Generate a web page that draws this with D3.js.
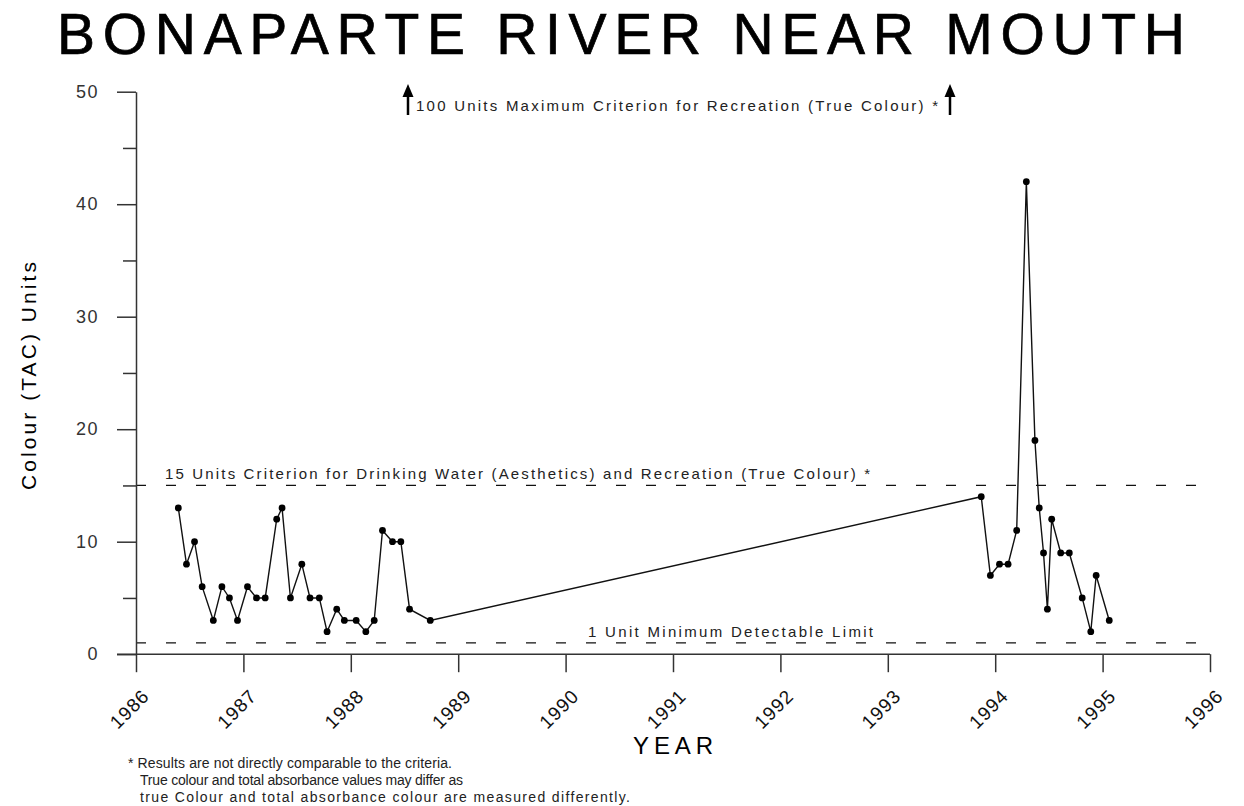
<!DOCTYPE html>
<html>
<head>
<meta charset="utf-8">
<script src="https://cdn.jsdelivr.net/npm/d3@7"></script>
<style>
  body { margin: 0; background: #fff; }
  svg { display: block; font-family: Arial, "Liberation Sans", sans-serif; }
</style>
</head>
<body>
<script>
// sample dates (decimal years) and colour readings
const dates = [1986.394, 1986.47, 1986.545, 1986.616, 1986.72, 1986.80, 1986.87, 1986.945, 1987.038, 1987.122,
  1987.203, 1987.31, 1987.36, 1987.438, 1987.544, 1987.62, 1987.707, 1987.779, 1987.869, 1987.94,
  1988.05, 1988.14, 1988.218, 1988.295, 1988.388, 1988.466, 1988.547, 1988.74,
  1993.87, 1993.955, 1994.04, 1994.12, 1994.20, 1994.29, 1994.37, 1994.41, 1994.45, 1994.486,
  1994.526, 1994.61, 1994.69, 1994.81, 1994.89, 1994.94, 1995.062];
const values = [13, 8, 10, 6, 3, 6, 5, 3, 6, 5,
  5, 12, 13, 5, 8, 5, 5, 2, 4, 3,
  3, 2, 3, 11, 10, 10, 4, 3,
  14, 7, 8, 8, 11, 42, 19, 13, 9, 4,
  12, 9, 9, 5, 2, 7, 3];

const yearTicks = [1986, 1987, 1988, 1989, 1990, 1991, 1992, 1993, 1994, 1995, 1996];
const yMajor = [0, 10, 20, 30, 40, 50];
const yMinor = [5, 15, 25, 35, 45];

const criteria = [15, 1];
const criteriaLabels = [
  "15 Units Criterion for Drinking Water (Aesthetics) and Recreation (True Colour) *",
  "1 Unit Minimum Detectable Limit"
];
const maxCriterionLabel = "100 Units Maximum Criterion for Recreation (True Colour) *";
const footnote = [
  "* Results are not directly comparable to the criteria.",
  "True colour and total absorbance values may differ as",
  "true Colour and total absorbance colour are measured differently."
];

let width = 1244;
let height = 806;
let svg = d3.select("body").append("svg")
  .attr("width", width)
  .attr("height", height);

let x = d3.scaleLinear().domain([1986, 1996]).range([136, 1210]);
let y = d3.scaleLinear().domain([0, 50]).range([654.2, 91.7]);

// title
svg.append("text")
  .attr("x", 57).attr("y", 54)
  .attr("font-size", 57)
  .attr("stroke", "#000").attr("stroke-width", 0.7)
  .attr("textLength", 1128).attr("lengthAdjust", "spacing")
  .text("BONAPARTE RIVER NEAR MOUTH");

// criterion lines
svg.append("g").selectAll("line")
  .data(criteria)
  .enter().append("line")
  .attr("x1", x(1986)).attr("x2", x(1996))
  .attr("y1", d => y(d)).attr("y2", d => y(d))
  .attr("stroke", "#111").attr("stroke-width", 1.3)
  .attr("stroke-dasharray", "10,20");

svg.append("text")
  .attr("x", 165).attr("y", 479)
  .attr("font-size", 15).attr("fill", "#222")
  .attr("textLength", 705).attr("lengthAdjust", "spacing")
  .text(criteriaLabels[0]);

svg.append("text")
  .attr("x", 588).attr("y", 637)
  .attr("font-size", 15).attr("fill", "#222")
  .attr("textLength", 285).attr("lengthAdjust", "spacing")
  .text(criteriaLabels[1]);

// off-scale criterion with arrows
svg.append("text")
  .attr("x", 416).attr("y", 111)
  .attr("font-size", 15).attr("fill", "#222")
  .attr("textLength", 522).attr("lengthAdjust", "spacing")
  .text(maxCriterionLabel);

[408, 950].forEach(ax => {
  svg.append("line")
    .attr("x1", ax).attr("x2", ax).attr("y1", 115).attr("y2", 92)
    .attr("stroke", "#000").attr("stroke-width", 2.5);
  svg.append("path")
    .attr("d", `M${ax - 5.5},${97} L${ax},${84} L${ax + 5.5},${97} Z`)
    .attr("fill", "#000");
});

// y axis
let yAxis = svg.append("g")
  .attr("transform", `translate(${x(1986)},0)`)
  .call(d3.axisLeft(y).tickValues(yMajor).tickSize(19).tickSizeOuter(0).tickPadding(18));
yAxis.selectAll("text")
  .attr("font-size", 18).attr("fill", "#333").attr("letter-spacing", 1.5)
  .attr("font-family", "Arial, 'Liberation Sans', sans-serif");

let yMinorAxis = svg.append("g")
  .attr("transform", `translate(${x(1986)},0)`)
  .call(d3.axisLeft(y).tickValues(yMinor).tickSize(13).tickFormat(""));
yMinorAxis.select(".domain").remove();

// x axis
let xAxis = svg.append("g")
  .attr("transform", `translate(0,${y(0)})`)
  .call(d3.axisBottom(x).tickValues(yearTicks).tickSize(18).tickSizeOuter(0).tickFormat(d3.format("d")));
xAxis.select(".domain").remove();
xAxis.append("line")
  .attr("x1", x(1986) - 19).attr("x2", x(1996))
  .attr("stroke", "#333").attr("stroke-width", 1.5);
xAxis.selectAll("text")
  .attr("font-size", 19).attr("fill", "#111").attr("letter-spacing", 1)
  .attr("font-family", "Arial, 'Liberation Sans', sans-serif")
  .attr("text-anchor", "end")
  .attr("x", 0).attr("y", 0).attr("dy", 0)
  .attr("transform", d => `translate(14,43) rotate(-45)`);

svg.selectAll(".domain, .tick line")
  .attr("stroke", "#333").attr("stroke-width", 1.5);

// axis titles
svg.append("text")
  .attr("transform", `translate(36,${376}) rotate(-90)`)
  .attr("text-anchor", "middle")
  .attr("font-size", 21)
  .attr("textLength", 228).attr("lengthAdjust", "spacing")
  .text("Colour (TAC) Units");

svg.append("text")
  .attr("x", 633).attr("y", 754)
  .attr("font-size", 24)
  .attr("textLength", 80).attr("lengthAdjust", "spacing")
  .text("YEAR");

// footnote
svg.append("g").selectAll("text")
  .data(footnote)
  .enter().append("text")
  .attr("x", (d, i) => i == 0 ? 128 : 140)
  .attr("y", (d, i) => 768 + i * 17)
  .attr("font-size", 14).attr("fill", "#222")
  .attr("textLength", (d, i) => [324, 323, 490][i]).attr("lengthAdjust", "spacing")
  .text(d => d);

// data
let points = dates.map((d, i) => [d, values[i]]);

let line = d3.line()
  .x(d => x(d[0]))
  .y(d => y(d[1]));

svg.append("path")
  .datum(points)
  .attr("d", line)
  .attr("fill", "none")
  .attr("stroke", "#111")
  .attr("stroke-width", 1.4);

svg.append("g").selectAll("circle")
  .data(points)
  .enter().append("circle")
  .attr("cx", d => x(d[0]))
  .attr("cy", d => y(d[1]))
  .attr("r", 3.4)
  .attr("fill", "#000");
</script>
</body>
</html>
